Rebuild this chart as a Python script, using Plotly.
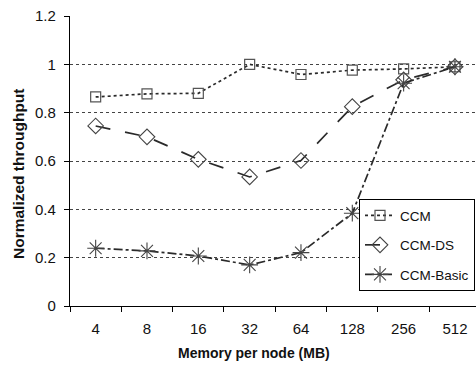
import plotly.graph_objects as go

categories = ["4", "8", "16", "32", "64", "128", "256", "512"]
ccm = [0.865, 0.878, 0.88, 1.0, 0.958, 0.976, 0.981, 0.99]
ccm_ds = [0.745, 0.70, 0.607, 0.534, 0.602, 0.825, 0.936, 0.99]
ccm_basic = [0.239, 0.228, 0.207, 0.17, 0.221, 0.384, 0.922, 0.99]
y_ticks = [0, 0.2, 0.4, 0.6, 0.8, 1.0, 1.2]
y_labels = ["0", "0.2", "0.4", "0.6", "0.8", "1", "1.2"]

W, H = 476, 366
L, R, T, B = 70, 0, 16, 60

fig = go.Figure()
fig.add_trace(go.Scatter(
    x=categories, y=ccm, name="CCM", mode="lines+markers",
    line=dict(color="#2a2a2a", width=1.7, dash="dot"),
    marker=dict(symbol="square-open", size=10, color="#555555", line=dict(width=1.2)),
    legendgroup="a"))
fig.add_trace(go.Scatter(
    x=categories, y=ccm_ds, name="CCM-DS", mode="lines+markers",
    line=dict(color="#2a2a2a", width=1.7, dash="longdash"),
    marker=dict(symbol="diamond-open", size=12, color="#444444", line=dict(width=1.1)),
    legendgroup="b"))
fig.add_trace(go.Scatter(
    x=categories, y=ccm_basic, name="CCM-Basic", mode="lines+markers",
    line=dict(color="#2a2a2a", width=1.7, dash="dashdot"),
    marker=dict(symbol="asterisk-open", size=14, color="#444444", line=dict(width=1.1, color="#444444")),
    legendgroup="c"))

fig.update_layout(
    width=W, height=H,
    margin=dict(l=L, r=R, t=T, b=B, autoexpand=False),
    paper_bgcolor="white", plot_bgcolor="white",
    font=dict(family="Liberation Sans, Arial, sans-serif", size=15, color="#111111"),
    showlegend=True,
    legend=dict(
        x=(359 - L) / (W - L - R), y=1 - (199 - T) / (H - T - B),
        xanchor="left", yanchor="top",
        bgcolor="white", bordercolor="#000000", borderwidth=1,
        font=dict(size=13.5), traceorder="grouped", tracegroupgap=9,
        itemwidth=30,
    ),
    xaxis=dict(
        type="category", range=[-0.5, 7.41],
        tickson="boundaries", ticks="outside", ticklen=5, tickcolor="#000",
        ticklabelstandoff=9,
        showline=True, linecolor="#000", linewidth=1.2,
        showgrid=False, zeroline=False,
        tickfont=dict(size=15),
    ),
    yaxis=dict(
        range=[0, 1.2], tickvals=y_ticks, ticktext=y_labels,
        ticks="outside", ticklen=5, tickcolor="#000",
        ticklabelstandoff=5,
        showline=True, linecolor="#000", linewidth=1.2,
        showgrid=True, gridcolor="#444444", griddash="dot", gridwidth=1,
        zeroline=False, tickfont=dict(size=15),
    ),
    annotations=[
        dict(text="<b>Memory per node (MB)</b>", xref="paper", yref="paper",
             x=(254 - L) / (W - L - R), y=-(353 - (H - B)) / (H - T - B),
             xanchor="center", yanchor="middle", showarrow=False,
             font=dict(size=14)),
        dict(text="<b>Normalized throughput</b>", xref="paper", yref="paper",
             x=-(L - 18) / (W - L - R), y=1 - (174 - T) / (H - T - B),
             xanchor="center", yanchor="middle", showarrow=False, textangle=-90,
             font=dict(size=15.5)),
    ],
)

fig.write_html("out.html", config={"displayModeBar": False},
               post_script="document.body.style.margin='0px';")
